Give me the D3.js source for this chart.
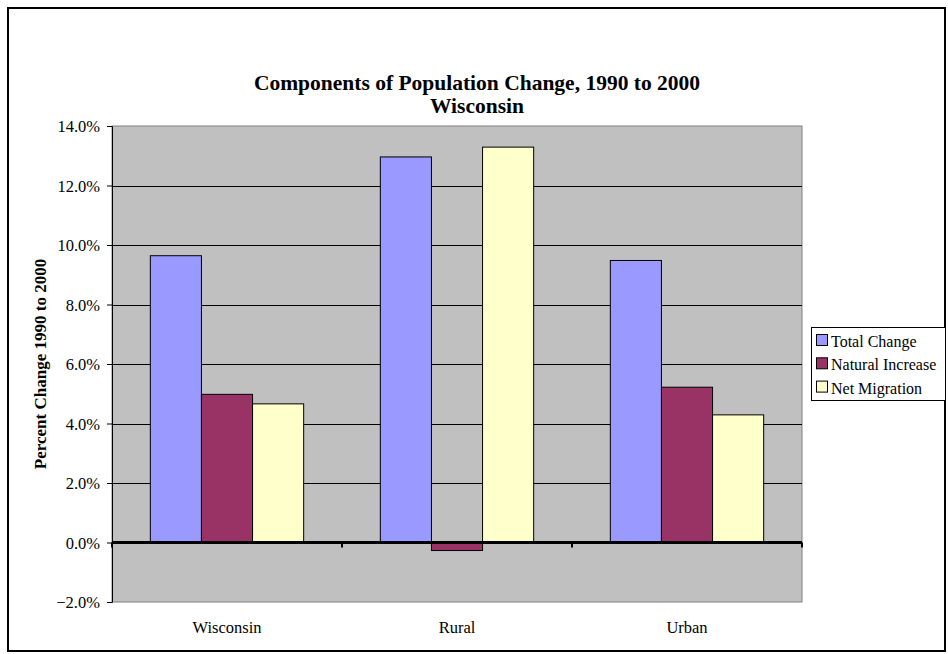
<!DOCTYPE html>
<html>
<head>
<meta charset="utf-8">
<script src="https://cdn.jsdelivr.net/npm/d3@7"></script>
<style>
  html, body { margin: 0; padding: 0; background: #fff; }
  svg { display: block; }
  svg text { font-family: "Liberation Serif", "Times New Roman", serif; }
</style>
</head>
<body>
<svg id="chart" width="948" height="654"></svg>
<script>
// Components of population change, 1990 to 2000 (percent)
const categories = ["Wisconsin", "Rural", "Urban"];
const seriesNames = ["Total Change", "Natural Increase", "Net Migration"];
const totalChange = [9.64, 12.96, 9.48];
const naturalIncrease = [4.98, -0.27, 5.22];
const netMigration = [4.66, 13.29, 4.29];
const yTicks = [-2, 0, 2, 4, 6, 8, 10, 12, 14];
const colors = ["#9999FF", "#993366", "#FFFFCC"];

const seriesValues = [totalChange, naturalIncrease, netMigration];

const svg = d3.select("#chart");
const plot = { left: 112, right: 802, top: 126, bottom: 602 };

// outer frame
svg.append("rect")
  .attr("x", 8).attr("y", 8).attr("width", 937).attr("height", 643)
  .attr("fill", "#fff").attr("stroke", "#000").attr("stroke-width", 2);

// title
const title = svg.append("text")
  .attr("text-anchor", "middle")
  .attr("font-weight", "bold")
  .attr("font-size", 21.5);
title.append("tspan").attr("x", 477).attr("y", 90).text("Components of Population Change, 1990 to 2000");
title.append("tspan").attr("x", 477).attr("y", 113).text("Wisconsin");

const x0 = d3.scaleBand().domain(categories).range([plot.left, plot.right]).paddingInner(0).paddingOuter(0);
// gap between clusters is 150% of one bar width
const groupInner = x0.bandwidth() * 3 / 4.5;
const x1 = d3.scaleBand().domain(seriesNames).range([0, groupInner]).padding(0);
const groupOffset = (x0.bandwidth() - groupInner) / 2;

const y = d3.scaleLinear().domain([-2, 14]).range([plot.bottom, plot.top]);

// plot area
svg.append("rect")
  .attr("x", plot.left).attr("y", plot.top)
  .attr("width", plot.right - plot.left).attr("height", plot.bottom - plot.top)
  .attr("fill", "#C0C0C0").attr("stroke", "#808080").attr("stroke-width", 1);

// gridlines
svg.append("g").selectAll("line")
  .data(yTicks.filter(t => t !== 0 && t !== -2 && t !== 14))
  .join("line")
  .attr("x1", plot.left).attr("x2", plot.right)
  .attr("y1", d => Math.round(y(d)) + 0.5).attr("y2", d => Math.round(y(d)) + 0.5)
  .attr("stroke", "#000").attr("stroke-width", 1);

// y axis
const yAxis = d3.axisLeft(y).tickValues(yTicks).tickSize(5).tickPadding(7)
  .tickFormat(d => d3.format(".1f")(d) + "%");
const gy = svg.append("g").attr("transform", `translate(${plot.left},0)`).call(yAxis)
  .attr("font-size", 16.5);
gy.select(".domain").attr("stroke", "#000");
gy.selectAll(".tick line").attr("stroke", "#000");
gy.selectAll(".tick text").attr("fill", "#000").attr("dy", "0.36em");

// bars
const groups = svg.append("g").selectAll("g")
  .data(categories)
  .join("g")
  .attr("transform", d => `translate(${x0(d) + groupOffset},0)`);

groups.selectAll("rect")
  .data((c, i) => seriesNames.map((s, j) => ({ s, v: seriesValues[j][i], j })))
  .join("rect")
  .attr("x", d => x1(d.s))
  .attr("width", x1.bandwidth())
  .attr("y", d => Math.min(y(d.v), y(0)))
  .attr("height", d => Math.abs(y(d.v) - y(0)))
  .attr("fill", d => colors[d.j])
  .attr("stroke", "#000").attr("stroke-width", 1);

// category axis along zero
svg.append("line")
  .attr("x1", plot.left).attr("x2", plot.right)
  .attr("y1", y(0)).attr("y2", y(0))
  .attr("stroke", "#000").attr("stroke-width", 3);
svg.append("g").selectAll("line")
  .data(d3.range(categories.length + 1))
  .join("line")
  .attr("x1", i => plot.left + i * x0.bandwidth())
  .attr("x2", i => plot.left + i * x0.bandwidth())
  .attr("y1", y(0)).attr("y2", y(0) + 5)
  .attr("stroke", "#000").attr("stroke-width", 2);

// category labels
svg.append("g").selectAll("text")
  .data(categories)
  .join("text")
  .attr("x", d => x0(d) + x0.bandwidth() / 2)
  .attr("y", 633)
  .attr("text-anchor", "middle")
  .attr("font-size", 16.5)
  .text(d => d);

// y axis title
svg.append("text")
  .attr("transform", "translate(46,364) rotate(-90)")
  .attr("text-anchor", "middle")
  .attr("font-weight", "bold")
  .attr("font-size", 17)
  .text("Percent Change 1990 to 2000");

// legend
const legend = svg.append("g").attr("transform", "translate(811,327)");
legend.append("rect")
  .attr("x", 0.5).attr("y", 0.5).attr("width", 134).attr("height", 73)
  .attr("fill", "#fff").attr("stroke", "#000").attr("stroke-width", 1);
const items = legend.selectAll("g.item")
  .data(seriesNames)
  .join("g").attr("class", "item")
  .attr("transform", (d, i) => `translate(0,${20 + i * 23.3})`);
items.append("rect")
  .attr("x", 5.5).attr("y", -12.5).attr("width", 11).attr("height", 11)
  .attr("fill", (d, i) => colors[i]).attr("stroke", "#000").attr("stroke-width", 1);
items.append("text")
  .attr("x", 20).attr("y", 0)
  .attr("font-size", 16)
  .text(d => d);
</script>
</body>
</html>
